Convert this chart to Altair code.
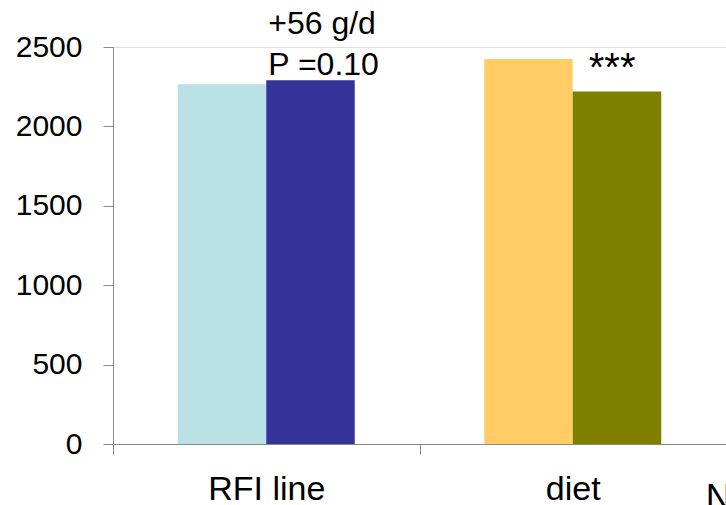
import altair as alt
import pandas as pd

# ---- data ----
x_labels = ["RFI line", "diet"]
bar_category = ["RFI line", "RFI line", "diet", "diet"]
bar_series = ["low RFI", "high RFI", "diet 1", "diet 2"]
bar_slot = [0, 1, 0, 1]
bar_value = [2265, 2290, 2425, 2220]
bar_colors = ["#B9E0E4", "#333399", "#FFCC66", "#808000"]
y_ticks = [0, 500, 1000, 1500, 2000, 2500]

ann_category = ["RFI line", "RFI line", "diet"]
ann_value = [2290, 2290, 2220]
ann_text = ["+56 g/d", "P =0.10", "***"]
edge_text = ["N"]

FONT = "Liberation Sans"
AXIS_GRAY = "#8C8C8C"

bars_df = pd.DataFrame({
    "category": bar_category,
    "series": bar_series,
    "slot": bar_slot,
    "value": bar_value,
})

x_scale = alt.Scale(domain=x_labels, paddingInner=0, paddingOuter=0)
y_scale = alt.Scale(domain=[0, 2500], nice=False)

bars = alt.Chart(bars_df).mark_bar().encode(
    x=alt.X(
        "category:N",
        scale=x_scale,
        axis=alt.Axis(
            title=None,
            labelAngle=0,
            labelFontSize=34,
            labelBaseline="alphabetic",
            labelPadding=45,
            tickBand="extent",
            tickSize=10,
            labelColor="black",
            labelFont=FONT,
        ),
    ),
    xOffset=alt.XOffset(
        "slot:O",
        scale=alt.Scale(paddingInner=0, paddingOuter=0.7316),
    ),
    y=alt.Y(
        "value:Q",
        scale=y_scale,
        axis=alt.Axis(
            title=None,
            values=y_ticks,
            format="d",
            grid=False,
            labelFontSize=30,
            labelPadding=21,
            tickSize=10,
            labelColor="black",
            labelFont=FONT,
        ),
    ),
    color=alt.Color(
        "series:N",
        scale=alt.Scale(domain=bar_series, range=bar_colors),
        legend=None,
    ),
)

def ann_layer(i, dx, dy, size):
    d = pd.DataFrame({
        "category": [ann_category[i]],
        "value": [ann_value[i]],
        "label": [ann_text[i]],
    })
    return alt.Chart(d).mark_text(
        align="left", baseline="alphabetic", dx=dx, dy=dy,
        fontSize=size, font=FONT, color="black",
    ).encode(
        x=alt.X("category:N", scale=x_scale),
        y=alt.Y("value:Q", scale=y_scale),
        text="label:N",
    )

t1 = ann_layer(0, 2, -46, 32)
t2 = ann_layer(1, 2, -5, 32)
t3 = ann_layer(2, 16, -10, 40)

edge_df = pd.DataFrame({"category": ["diet"], "value": [0], "label": edge_text})
t4 = alt.Chart(edge_df).mark_text(
    align="left", baseline="alphabetic", dx=133, dy=66,
    fontSize=36, font=FONT, color="black",
).encode(
    x=alt.X("category:N", scale=x_scale),
    y=alt.Y("value:Q", scale=y_scale),
    text="label:N",
)

chart = alt.layer(bars, t1, t2, t3, t4).properties(
    width=613,
    height=397,
    autosize=alt.AutoSizeParams(type="none"),
    padding={"left": 113, "top": 47, "right": 0, "bottom": 61},
).configure_view(
    stroke=None,
).configure_axis(
    domainColor=AXIS_GRAY,
    tickColor=AXIS_GRAY,
    domainWidth=2,
    tickWidth=2,
    labelOverlap=False,
).configure(
    background="white",
)

chart.save("out.html", embed_options={"renderer": "svg", "actions": False})
